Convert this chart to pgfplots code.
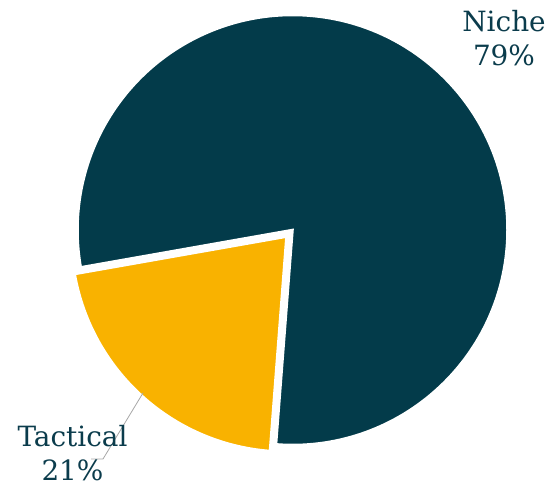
\documentclass[border=0pt]{standalone}
\usepackage{pgfplots}
\usepackage{pgfplotstable}
\pgfplotsset{compat=1.18}
\usetikzlibrary{calc}
\usepackage{fontspec}
\setmainfont{DejaVu Serif}
\definecolor{niche}{HTML}{033B4A}
\definecolor{tactical}{HTML}{F9B200}
\definecolor{labtext}{HTML}{0B3C4C}
\pgfplotstableread{
label value
Niche 79
Tactical 21
}\piedata
\pgfplotstablegetelem{0}{value}\of\piedata \let\vniche\pgfplotsretval
\pgfplotstablegetelem{1}{value}\of\piedata \let\vtact\pgfplotsretval
\pgfmathsetmacro{\tstart}{190}
\pgfmathsetmacro{\tend}{\tstart+3.6*\vtact}
\pgfmathsetmacro{\nend}{\tend+3.6*\vniche}
\pgfmathsetmacro{\tmid}{(\tstart+\tend)/2}
\begin{document}
\begin{tikzpicture}
\begin{axis}[
  scale only axis, width=552bp, height=487bp,
  xmin=0, xmax=552, ymin=0, ymax=487,
  hide axis, clip=false,
]
\path (axis cs:0,0) rectangle (axis cs:552,487);
% Niche wedge
\fill[niche, draw=white, line width=2.5bp, line join=miter]
  (axis cs:292.5,257) -- ++(\tend:215bp) arc[start angle=\tend, end angle=\nend, radius=215bp] -- cycle;
% Tactical wedge (exploded)
\fill[tactical, draw=white, line width=2.5bp, line join=miter]
  ($(axis cs:292.5,257)+(\tmid:9bp)$) -- ++(\tstart:215bp) arc[start angle=\tstart, end angle=\tend, radius=215bp] -- cycle;
% leader line
\draw[gray!70, line width=0.8bp] (axis cs:143,94) -- (axis cs:103,28) -- (axis cs:91,28);
\begin{scope}[every node/.style={text=labtext, font=\fontsize{28}{34}\selectfont, anchor=base, inner sep=0pt}]
\node at (axis cs:504,455) {Niche};
\node at (axis cs:504,421) {79\%};
\node at (axis cs:72.5,40) {Tactical};
\node at (axis cs:72.5,7) {21\%};
\end{scope}
\end{axis}
\end{tikzpicture}
\end{document}
